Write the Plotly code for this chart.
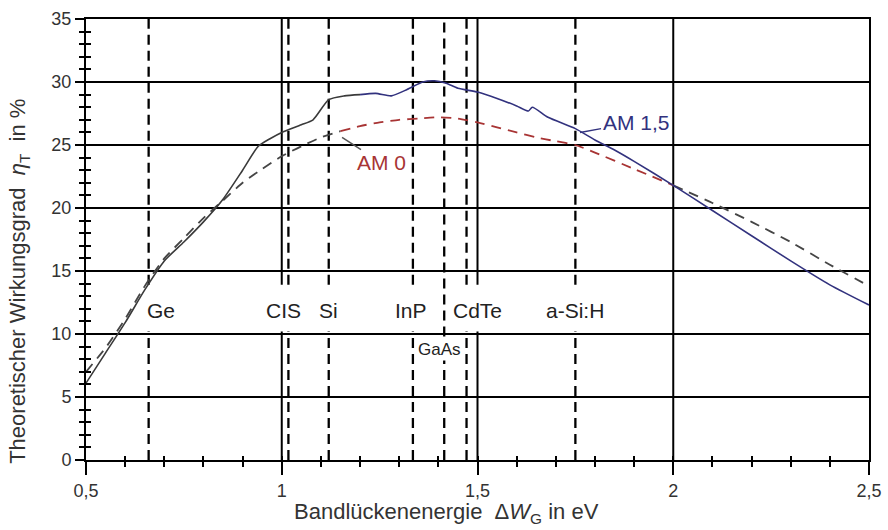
import plotly.graph_objects as go

# ---------------- data ----------------
am15_x = [0.5, 0.55, 0.6, 0.65, 0.7, 0.75, 0.8, 0.85, 0.9, 0.94, 0.97, 1.0, 1.05, 1.08,
          1.12, 1.16, 1.2, 1.24, 1.28, 1.32, 1.36, 1.39, 1.42, 1.45, 1.5, 1.55, 1.6,
          1.63, 1.64, 1.68, 1.75, 1.8, 1.85, 1.9, 2.0, 2.1, 2.2, 2.3, 2.4, 2.5]
am15_y = [6.1, 8.5, 10.9, 13.5, 15.8, 17.3, 18.9, 20.7, 23.0, 24.9, 25.5, 26.0, 26.6, 27.0,
          28.6, 28.9, 29.0, 29.1, 28.9, 29.4, 30.0, 30.1, 29.9, 29.5, 29.2, 28.7, 28.1,
          27.7, 28.0, 27.2, 26.3, 25.4, 24.6, 23.7, 21.8, 19.8, 17.8, 15.8, 13.9, 12.3]

am0_x = [0.5, 0.55, 0.6, 0.65, 0.7, 0.75, 0.8, 0.85, 0.9, 0.95, 1.0, 1.05, 1.1, 1.15,
         1.2, 1.25, 1.3, 1.35, 1.4, 1.45, 1.5, 1.55, 1.6, 1.65, 1.7, 1.75, 1.8, 1.9,
         2.0, 2.1, 2.2, 2.3, 2.4, 2.5]
am0_y = [7.0, 8.9, 11.2, 13.8, 16.0, 17.6, 19.2, 20.6, 22.0, 23.1, 24.1, 24.9, 25.6, 26.1,
         26.5, 26.8, 27.0, 27.1, 27.2, 27.1, 26.8, 26.4, 26.0, 25.6, 25.3, 25.0, 24.4, 23.1,
         21.8, 20.4, 18.9, 17.3, 15.5, 13.8]

materials = ["Ge", "CIS", "Si", "InP", "GaAs", "CdTe", "a-Si:H"]
band_gaps = [0.66, 1.017, 1.12, 1.335, 1.415, 1.472, 1.75]

x_tickvals = [0.5, 1.0, 1.5, 2.0, 2.5]
x_ticktext = ["0,5", "1", "1,5", "2", "2,5"]
y_tickvals = [0, 5, 10, 15, 20, 25, 30, 35]
y_ticktext = ["0", "5", "10", "15", "20", "25", "30", "35"]

solid_lines = [1.0, 1.5, 2.0]

# --------------- styling params ---------------
label_row = (10.2, 13.9)       # gap in vertical lines for the label row
gaas_row = (7.9, 9.8)          # gap for the GaAs label
label_y = 11.9
gaas_label_y = 8.8
label_shift = {"Ge": 12, "CIS": -5, "Si": 0, "InP": -2, "GaAs": -5, "CdTe": 11, "a-Si:H": 0}
solid_gapped = {1.0: label_row, 1.5: label_row, 2.0: None}

FONT = "Liberation Sans, Arial, sans-serif"
GRAY_TXT = "#333333"
RED = "#a83434"
BLUE = "#32327e"

fig = go.Figure()


def vline_trace(xv, gap, dash, width):
    if gap is None:
        xs, ys = [xv, xv], [0, 35]
    else:
        xs, ys = [xv, xv, None, xv, xv], [0, gap[0], None, gap[1], 35]
    return go.Scatter(x=xs, y=ys, mode="lines", hoverinfo="skip", showlegend=False,
                      line=dict(color="black", width=width, dash=dash))


for xv in solid_lines:
    fig.add_trace(vline_trace(xv, solid_gapped[xv], "solid", 2))

for name, g in zip(materials, band_gaps):
    gap = gaas_row if name == "GaAs" else label_row
    fig.add_trace(vline_trace(g, gap, "10px,6px", 2.3))


def seg(xs, ys, lo, hi):
    px, py = [], []
    for a, b in zip(xs, ys):
        if lo <= a <= hi:
            px.append(a)
            py.append(b)
    return px, py


# AM 0 dashed (gray / red / gray)
for lo, hi, col in [(0.5, 1.15, "#454545"), (1.15, 2.0, RED), (2.0, 2.5, "#454545")]:
    px, py = seg(am0_x, am0_y, lo, hi)
    fig.add_trace(go.Scatter(x=px, y=py, mode="lines", showlegend=False, hoverinfo="skip",
                             line=dict(color=col, width=1.8, dash="10px,7px", shape="spline",
                                       smoothing=0.6)))

# AM 1,5 solid (gray / blue)
for lo, hi, col in [(0.5, 1.2, "#3a3a3a"), (1.2, 2.5, BLUE)]:
    px, py = seg(am15_x, am15_y, lo, hi)
    fig.add_trace(go.Scatter(x=px, y=py, mode="lines", showlegend=False, hoverinfo="skip",
                             line=dict(color=col, width=1.6, shape="spline", smoothing=0.6)))

# invisible trace to anchor overlay axes (for crossing ticks)
fig.add_trace(go.Scatter(x=[0.5], y=[0], mode="markers", marker=dict(opacity=0),
                         xaxis="x2", yaxis="y2", hoverinfo="skip", showlegend=False))

ann = []
for name, g in zip(materials, band_gaps):
    yy = gaas_label_y if name == "GaAs" else label_y
    size = 17 if name == "GaAs" else 21
    ann.append(dict(x=g, y=yy, text=name, showarrow=False, xshift=label_shift[name],
                    font=dict(family=FONT, size=size, color="#222222")))

# curve labels with leader lines (tip on curve, text at ax/ay)
ann.append(dict(x=1.154, y=25.6, ax=1.254, ay=23.6, text="AM 0", showarrow=True,
                axref="x", ayref="y", arrowhead=0, arrowwidth=1.5, arrowcolor="#555555",
                standoff=0, font=dict(family=FONT, size=21, color=RED)))
ann.append(dict(x=1.762, y=26.0, ax=1.905, ay=26.8, text="AM 1,5", showarrow=True,
                axref="x", ayref="y", arrowhead=0, arrowwidth=1.5, arrowcolor=BLUE,
                standoff=0, font=dict(family=FONT, size=21, color=BLUE)))
# axis titles
ann.append(dict(xref="paper", yref="paper", x=0.46, y=-0.12, xanchor="center", yanchor="middle",
                showarrow=False,
                text="Bandlückenenergie&nbsp;&nbsp;Δ<i>W</i><sub>G</sub> in eV",
                font=dict(family=FONT, size=22, color=GRAY_TXT)))
ann.append(dict(xref="paper", yref="paper", x=-0.085, y=0.405, xanchor="center",
                yanchor="middle", showarrow=False, textangle=-90,
                text="Theoretischer Wirkungsgrad&nbsp;&nbsp;<i>η</i><sub>T</sub>&nbsp;&nbsp;in %",
                font=dict(family=FONT, size=22, color=GRAY_TXT)))

fig.update_layout(
    width=888, height=530,
    margin=dict(l=86, r=19, t=19, b=70, autoexpand=False),
    paper_bgcolor="white", plot_bgcolor="white",
    annotations=ann,
    xaxis=dict(range=[0.5, 2.5], tickmode="array", tickvals=x_tickvals, ticktext=x_ticktext,
               ticks="outside", ticklen=13, tickwidth=2, tickcolor="black", automargin=False,
               showline=True, linecolor="black", linewidth=2, mirror=True,
               showgrid=False, zeroline=False,
               tickfont=dict(family=FONT, size=18, color=GRAY_TXT),
               minor=dict(tickmode="linear", tick0=0.5, dtick=0.1, ticks="outside", ticklen=5,
                          tickwidth=2, tickcolor="black", showgrid=False)),
    yaxis=dict(range=[0, 35], tickmode="array", tickvals=y_tickvals, ticktext=y_ticktext,
               ticks="outside", ticklen=9, tickwidth=2, tickcolor="black", automargin=False,
               showline=True, linecolor="black", linewidth=2, mirror=True,
               showgrid=True, gridcolor="black", gridwidth=2, zeroline=False,
               tickfont=dict(family=FONT, size=18, color=GRAY_TXT),
               minor=dict(tickmode="linear", tick0=0, dtick=1, ticks="outside", ticklen=5,
                          tickwidth=2, tickcolor="black", showgrid=False)),
    xaxis2=dict(overlaying="x", matches="x", anchor="y", side="bottom", automargin=False,
                showticklabels=False, ticks="inside", ticklen=4, tickwidth=2, tickcolor="black",
                tickmode="array", tickvals=x_tickvals, showgrid=False, zeroline=False,
                showline=False,
                minor=dict(tickmode="linear", tick0=0.5, dtick=0.1, ticks="inside", ticklen=4,
                           tickwidth=2, tickcolor="black", showgrid=False)),
    yaxis2=dict(overlaying="y", matches="y", anchor="x", side="left", automargin=False,
                showticklabels=False, ticks="inside", ticklen=5, tickwidth=2, tickcolor="black",
                tickmode="array", tickvals=y_tickvals, showgrid=False, zeroline=False,
                showline=False,
                minor=dict(tickmode="linear", tick0=0, dtick=1, ticks="inside", ticklen=5,
                           tickwidth=2, tickcolor="black", showgrid=False)),
)

fig.write_html("out.html", config={"displayModeBar": False},
               post_script="document.body.style.margin='0';document.body.style.overflow='hidden';")
